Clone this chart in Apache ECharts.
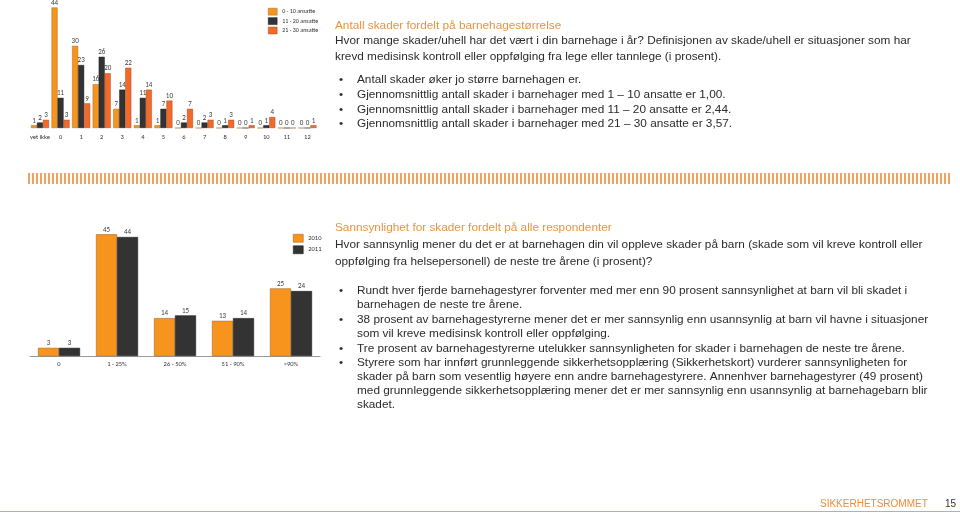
<!DOCTYPE html>
<html>
<head>
<meta charset="utf-8">
<script src="https://cdn.jsdelivr.net/npm/echarts@6/dist/echarts.min.js"></script>
<style>
html,body{margin:0;padding:0;background:#fff;}
#c{width:960px;height:514px;}
</style>
</head>
<body>
<div id="c"></div>
<script>
// ---- Data: chart 1 (antall skader fordelt på barnehagestørrelse) ----
var sizeCategories = ['vet ikke','0','1','2','3','4','5','6','7','8','9','10','11','12'];
var sizeSeriesNames = ['0 - 10 ansatte','11 - 20 ansatte','21 - 30 ansatte'];
var small = [1,44,30,16,7,1,1,0,0,0,0,0,0,0];
var medium = [2,11,23,26,14,11,7,2,2,1,0,1,0,0];
var large = [3,3,9,20,22,14,10,7,3,3,1,4,0,1];

// ---- Data: chart 2 (sannsynlighet for skader) ----
var probCategories = ['0','1 - 25%','26 - 50%','51 - 90%','>90%'];
var yearNames = ['2010','2011'];
var y2010 = [3,45,14,13,25];
var y2011 = [3,44,15,14,24];

var FONT = '"Liberation Sans", Arial, Helvetica, sans-serif';
var CH_FONT = 'Calibri, Carlito, "Liberation Sans", sans-serif';
var ORANGE = '#F7941D', DARK = '#333333', RED = '#F16A2B';

var chart = echarts.init(document.getElementById('c'));

var graphics = [];
function txt(x, y, s, opts) {
  opts = opts || {};
  graphics.push({
    type: 'text', left: x, top: y - 6,
    style: {
      text: s, fill: opts.color || '#2b2b2b',
      font: (opts.size || 11.8) + 'px ' + FONT
    }
  });
}
var TITLE_C = '#E9943F';
// top text block
txt(335, 26, 'Antall skader fordelt på barnehagestørrelse', {color: TITLE_C});
txt(335, 41, 'Hvor mange skader/uhell har det vært i din barnehage i år? Definisjonen av skade/uhell er situasjoner som har');
txt(335, 57, 'krevd medisinsk kontroll eller oppfølging fra lege eller tannlege (i prosent).');
var topBullets = [
  [80, 'Antall skader øker jo større barnehagen er.'],
  [95, 'Gjennomsnittlig antall skader i barnehager med 1 – 10 ansatte er 1,00.'],
  [110, 'Gjennomsnittlig antall skader i barnehager med 11 – 20 ansatte er 2,44.'],
  [124, 'Gjennomsnittlig antall skader i barnehager med 21 – 30 ansatte er 3,57.']
];
topBullets.forEach(function(b){ txt(339, b[0], '•'); txt(357, b[0], b[1]); });

// bottom text block
txt(335, 228, 'Sannsynlighet for skader fordelt på alle respondenter', {color: TITLE_C});
txt(335, 245, 'Hvor sannsynlig mener du det er at barnehagen din vil oppleve skader på barn (skade som vil kreve kontroll eller');
txt(335, 262, 'oppfølging fra helsepersonell) de neste tre årene (i prosent)?');
var botLines = [
  [291, 'Rundt hver fjerde barnehagestyrer forventer med mer enn 90 prosent sannsynlighet at barn vil bli skadet i', true],
  [305, 'barnehagen de neste tre årene.', false],
  [320, '38 prosent av barnehagestyrerne mener det er mer sannsynlig enn usannsynlig at barn vil havne i situasjoner', true],
  [334, 'som vil kreve medisinsk kontroll eller oppfølging.', false],
  [349, 'Tre prosent av barnehagestyrerne utelukker sannsynligheten for skader i barnehagen de neste tre årene.', true],
  [363, 'Styrere som har innført grunnleggende sikkerhetsopplæring (Sikkerhetskort) vurderer sannsynligheten for', true],
  [377, 'skader på barn som vesentlig høyere enn andre barnehagestyrere. Annenhver barnehagestyrer (49 prosent)', false],
  [391, 'med grunnleggende sikkerhetsopplæring mener det er mer sannsynlig enn usannsynlig at barnehagebarn blir', false],
  [405, 'skadet.', false]
];
botLines.forEach(function(b){ if (b[2]) txt(339, b[0], '•'); txt(357, b[0], b[1]); });

// striped separator (decoration)
for (var sx = 28; sx < 952; sx += 4) {
  graphics.push({type:'rect', shape:{x:sx, y:173, width:2, height:11}, style:{fill:'#F2A25A'}, silent:true});
}

// footer
graphics.push({type:'text', left:820, top:499, style:{text:'SIKKERHETSROMMET', fill:'#EE8C3A', font:'10px ' + FONT}});
graphics.push({type:'text', left:945, top:499, style:{text:'15', fill:'#333333', font:'10px ' + FONT}});
graphics.push({type:'line', shape:{x1:0, y1:511.5, x2:960, y2:511.5}, style:{stroke:'#F0A060', lineWidth:1}});

function barLabel(size){
  return {show:true, position:'top', distance:1, fontSize:size, color:'#404040', fontFamily:CH_FONT};
}

chart.setOption({
  animation: false,
  backgroundColor: '#ffffff',
  graphic: graphics,
  legend: [
    {
      data: sizeSeriesNames, orient:'vertical', left:263, top:3, icon:'rect',
      itemWidth:9, itemHeight:7, itemGap:2, itemStyle:{borderWidth:0.4},
      textStyle:{fontSize:6, color:'#333', fontFamily:CH_FONT}
    },
    {
      data: yearNames, orient:'vertical', left:288, top:229, icon:'rect',
      itemWidth:10, itemHeight:8, itemGap:3, itemStyle:{borderWidth:0.5},
      textStyle:{fontSize:6.5, color:'#333', fontFamily:CH_FONT}
    }
  ],
  grid: [
    {left:29.7, width:288, top:7.5, height:120.5},
    {left:30, width:290, top:234.3, height:121.7}
  ],
  xAxis: [
    {
      gridIndex:0, type:'category', data:sizeCategories,
      axisLine:{show:false}, axisTick:{show:false},
      axisLabel:{fontSize:6.5, color:'#333', margin:6, fontFamily:CH_FONT, interval:0}
    },
    {
      gridIndex:1, type:'category', data:probCategories,
      axisLine:{show:true, lineStyle:{color:'#999', width:1}}, axisTick:{show:false},
      axisLabel:{fontSize:6.5, color:'#333', margin:5, fontFamily:CH_FONT, interval:0}
    }
  ],
  yAxis: [
    {gridIndex:0, type:'value', min:0, max:44, show:false, splitLine:{show:false}},
    {gridIndex:1, type:'value', min:0, max:45, show:false, splitLine:{show:false}}
  ],
  series: [
    {name:sizeSeriesNames[0], type:'bar', xAxisIndex:0, yAxisIndex:0, data:small, barWidth:6, barGap:'0%',
     itemStyle:{color:ORANGE, borderColor:'#9C5A14', borderWidth:0.4}, label:barLabel(7)},
    {name:sizeSeriesNames[1], type:'bar', xAxisIndex:0, yAxisIndex:0, data:medium, barWidth:6, barGap:'0%',
     itemStyle:{color:DARK, borderColor:'#111', borderWidth:0.4}, label:barLabel(7)},
    {name:sizeSeriesNames[2], type:'bar', xAxisIndex:0, yAxisIndex:0, data:large, barWidth:6, barGap:'0%',
     itemStyle:{color:RED, borderColor:'#9C3E14', borderWidth:0.4}, label:barLabel(7)},
    {name:yearNames[0], type:'bar', xAxisIndex:1, yAxisIndex:1, data:y2010, barWidth:21, barGap:'0%',
     itemStyle:{color:ORANGE, borderColor:'#9C5A14', borderWidth:0.5}, label:barLabel(7)},
    {name:yearNames[1], type:'bar', xAxisIndex:1, yAxisIndex:1, data:y2011, barWidth:21, barGap:'0%',
     itemStyle:{color:DARK, borderColor:'#111', borderWidth:0.5}, label:barLabel(7)}
  ]
});
</script>
</body>
</html>
